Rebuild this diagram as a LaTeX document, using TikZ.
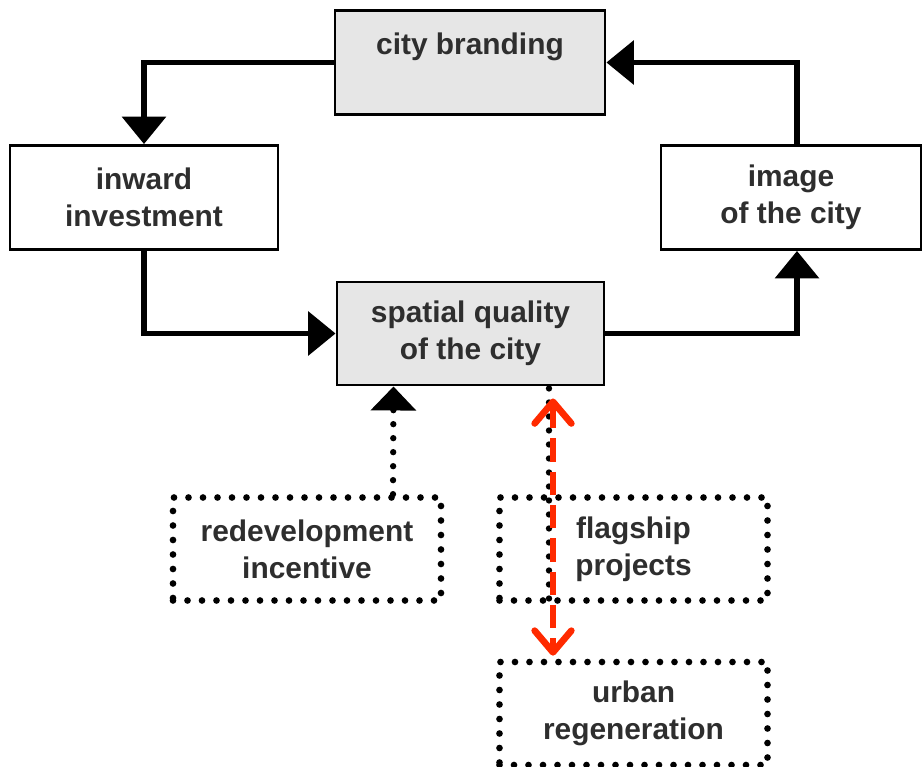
\documentclass[tikz,border=0pt]{standalone}
\usepackage{fontspec}
\setmainfont{Liberation Sans}
\usetikzlibrary{arrows.meta,calc}
\definecolor{boxgray}{HTML}{E6E6E6}
\definecolor{inkgray}{HTML}{2E2E2E}
\definecolor{flagred}{HTML}{FF2A00}
\begin{document}
\begin{tikzpicture}[x=0.03cm,y=-0.03cm,
  every node/.style={font=\bfseries\fontsize{25.5pt}{31.5pt}\selectfont,
    text=inkgray, align=center, inner sep=0pt},
  solidbox/.style={draw=black, line width=2.5pt, minimum height=3.12cm},
  graybox/.style={solidbox, fill=boxgray},
  dotbox/.style={draw=black, line width=0.2cm, line cap=round,
    dash pattern=on 0pt off 0.435cm, minimum width=8.04cm, minimum height=3.09cm},
  conn/.style={draw=black, line width=4.3pt,
    -{Triangle[width=1.3cm,length=0.82cm]}},
  dotconn/.style={draw=black, line width=0.19cm, line cap=round,
    dash pattern=on 0pt off 0.42cm},
  dotarrow/.style={dotconn, -{Triangle[width=1.33cm,length=0.72cm]}},
  redarrow/.style={draw=flagred, line width=0.2cm, dash pattern=on 0.7cm off 0.3cm,
    {Straight Barb[round,length=0.65cm,width=1.1cm]}-{Straight Barb[round,length=0.65cm,width=1.1cm]}}
]
\useasboundingbox (0,0) rectangle (923,767);

% main cycle
\node[graybox, minimum width=8.1cm] (brand) at (470,62.5) {city branding\\\mbox{}};
\node[solidbox, minimum width=8.04cm] (inward) at (144,197.5) {inward\\investment};
\node[solidbox, minimum width=7.8cm] (image) at (791,197.5) {image\\of the city};
\node[graybox, minimum width=8.01cm, minimum height=3.09cm] (spatial) at (470.5,333.5) {spatial quality\\of the city};

% supporting measures
\node[dotbox] (redev) at (307,549) {redevelopment\\incentive};
\node[dotbox] (flag) at (633.5,549) {flagship\\projects};
\node[dotbox] (urban) at (633.5,713.5) {urban\\regeneration};

% cycle connectors
\draw[conn] (brand.west) -| (inward.north);
\draw[conn] ($(image.north)+(6,0)$) |- (brand.east);
\draw[conn] (inward.south) |- (spatial.west);
\draw[conn] (spatial.east) -| ($(image.south)+(6,0)$);

% dotted links
\draw[dotarrow] ($(redev.north)+(86,0)$) -- ($(spatial.south)+(-77,0)$);
\coordinate (flagend) at (549,612);
\draw[dotconn] ($(spatial.south)+(78.5,2)$) -- (flagend);

% red link to regeneration
\draw[redarrow] ($(spatial.south)+(82.5,12)$) -- ($(urban.north)+(-80.5,-3)$);
\end{tikzpicture}
\end{document}
